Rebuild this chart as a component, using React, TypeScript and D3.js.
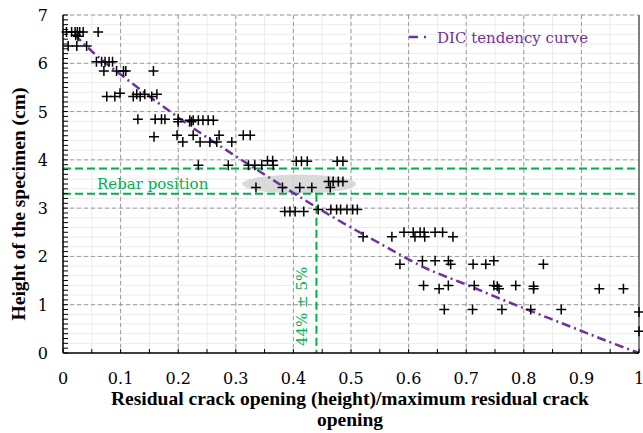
import React from "react";
import * as d3 from "d3";

// measured points, [ratio, height cm]
const points: [number, number][] = [
  [0.006, 6.65], [0.015, 6.65], [0.021, 6.65], [0.025, 6.65], [0.029, 6.65], [0.035, 6.65], [0.061, 6.65],
  [0.022, 6.58], [0.026, 6.56],
  [0.009, 6.36], [0.024, 6.36], [0.041, 6.36],
  [0.058, 6.03], [0.067, 6.03], [0.073, 6.03], [0.080, 6.03], [0.086, 6.03],
  [0.071, 5.84], [0.093, 5.84], [0.105, 5.84], [0.109, 5.84], [0.157, 5.84],
  [0.076, 5.31], [0.090, 5.31], [0.099, 5.38], [0.122, 5.31], [0.128, 5.36], [0.134, 5.31],
  [0.142, 5.36], [0.154, 5.31], [0.163, 5.36],
  [0.130, 4.84], [0.160, 4.84], [0.171, 4.84], [0.177, 4.84], [0.200, 4.84], [0.220, 4.82],
  [0.226, 4.82], [0.235, 4.82], [0.243, 4.82], [0.252, 4.82], [0.261, 4.82],
  [0.200, 4.79], [0.223, 4.79],
  [0.158, 4.48],
  [0.198, 4.51], [0.226, 4.51], [0.271, 4.51], [0.313, 4.51], [0.325, 4.51],
  [0.208, 4.37], [0.238, 4.37], [0.255, 4.37], [0.267, 4.37], [0.293, 4.37],
  [0.355, 3.98], [0.364, 3.98], [0.405, 3.97], [0.414, 3.97], [0.424, 3.97], [0.476, 3.97], [0.486, 3.97],
  [0.235, 3.89], [0.287, 3.89], [0.322, 3.89], [0.333, 3.89], [0.345, 3.89], [0.365, 3.89],
  [0.335, 3.43], [0.381, 3.43], [0.411, 3.43], [0.432, 3.43], [0.464, 3.43],
  [0.461, 3.55], [0.469, 3.55], [0.478, 3.55], [0.486, 3.55],
  [0.385, 2.93], [0.394, 2.93], [0.403, 2.93], [0.418, 2.93],
  [0.443, 2.97], [0.465, 2.97], [0.475, 2.97], [0.482, 2.97], [0.493, 2.97], [0.503, 2.97], [0.511, 2.97],
  [0.521, 2.41], [0.571, 2.41], [0.611, 2.41], [0.628, 2.41], [0.677, 2.41],
  [0.592, 2.5], [0.608, 2.5], [0.620, 2.5], [0.627, 2.5], [0.646, 2.5], [0.659, 2.5],
  [0.585, 1.84], [0.673, 1.84], [0.712, 1.84], [0.734, 1.84], [0.834, 1.84],
  [0.624, 1.91], [0.646, 1.91], [0.669, 1.91], [0.748, 1.91],
  [0.626, 1.4], [0.669, 1.4], [0.714, 1.4], [0.748, 1.4], [0.754, 1.38], [0.786, 1.4], [0.817, 1.38],
  [0.653, 1.33], [0.757, 1.33], [0.817, 1.33], [0.931, 1.33], [0.973, 1.33],
  [0.662, 0.9], [0.711, 0.9], [0.762, 0.9], [0.812, 0.9], [0.865, 0.9],
  [1.0, 0.85], [1.0, 0.45],
];

// DIC tendency curve
const trend: [number, number][] = [
  [0.02, 6.6], [0.05, 6.25], [0.113, 5.65], [0.186, 5.0], [0.238, 4.56], [0.293, 4.13],
  [0.365, 3.58], [0.406, 3.27], [0.478, 2.75], [0.55, 2.27], [0.631, 1.75], [0.691, 1.46],
  [0.793, 0.96], [0.874, 0.58], [0.955, 0.2], [1.0, 0.0],
];

const rebarLines = [3.82, 3.3];
const rebarX = 0.44;
const xTicks = [0, 0.1, 0.2, 0.3, 0.4, 0.5, 0.6, 0.7, 0.8, 0.9, 1];
const yTicks = [0, 1, 2, 3, 4, 5, 6, 7];

const W = 643;
const H = 433;
const green = "#00B050";
const purple = "#7030A0";

export default function App() {
  const x = d3.scaleLinear().domain([0, 1]).range([63, 639]);
  const y = d3.scaleLinear().domain([0, 7]).range([353, 15]);

  const xMinor = d3.range(0, 1.0001, 0.05);
  const yMinorGrid = d3.range(0, 7.0001, 0.2);
  const yMinorTicks = d3.range(0, 7.0001, 0.1);

  const line = d3
    .line<[number, number]>()
    .x((d) => x(d[0]))
    .y((d) => y(d[1]))
    .curve(d3.curveMonotoneX);

  const tickFont = "'DejaVu Serif', serif";
  const titleFont = "'Liberation Serif', serif";

  return (
    <svg width={W} height={H} style={{ position: "absolute", left: 0, top: 0, background: "#fff" }}>
      {/* minor grid */}
      {xMinor.map((t, i) => (
        <line key={"xm" + i} x1={x(t)} x2={x(t)} y1={y(7)} y2={y(0)} stroke="#ebebeb" />
      ))}
      {yMinorGrid.map((t, i) => (
        <line key={"ym" + i} x1={x(0)} x2={x(1)} y1={y(t)} y2={y(t)} stroke="#ebebeb" />
      ))}
      {/* major grid */}
      {xTicks.slice(1, -1).map((t) => (
        <line key={"xg" + t} x1={x(t)} x2={x(t)} y1={y(7)} y2={y(0)} stroke="#9a9a9a" strokeDasharray="4,3" />
      ))}
      {yTicks.slice(1).map((t) => (
        <line key={"yg" + t} x1={x(0)} x2={x(1)} y1={y(t)} y2={y(t)} stroke="#9a9a9a" strokeDasharray="4,3" />
      ))}
      <line x1={x(1)} x2={x(1)} y1={y(7)} y2={y(0)} stroke="#7f7f7f" strokeWidth={2} />

      {/* highlight ellipse */}
      <ellipse cx={x(0.41)} cy={y(3.5)} rx={x(0.099) - x(0)} ry={y(0) - y(0.197)} fill="#d4d4d4" opacity={0.85} />

      {/* rebar lines */}
      {rebarLines.map((v) => (
        <line key={"rb" + v} x1={x(0)} x2={x(1)} y1={y(v)} y2={y(v)} stroke={green} strokeWidth={2} strokeDasharray="8,4" />
      ))}
      <line x1={x(rebarX)} x2={x(rebarX)} y1={y(3.3)} y2={y(0)} stroke={green} strokeWidth={2} strokeDasharray="8,4" />
      <text x={97} y={189} fill={green} fontFamily={tickFont} fontSize={15}>Rebar position</text>
      <text
        transform={`translate(${x(rebarX) - 9},${y(0) - 7}) rotate(-90)`}
        fill={green}
        fontFamily={tickFont}
        fontSize={15}
      >
        44% ± 5%
      </text>

      {/* trend */}
      <path d={line(trend) || ""} fill="none" stroke={purple} strokeWidth={2.5} strokeDasharray="9,4,2,4" />

      {/* points */}
      {points.map((p, i) => (
        <g key={"p" + i} transform={`translate(${x(p[0])},${y(p[1])})`}>
          <path d="M-5,0H5M0,-5V5" stroke="#000" strokeWidth={1.5} />
        </g>
      ))}

      {/* axes */}
      <line x1={x(0)} x2={x(1)} y1={y(0)} y2={y(0)} stroke="#000" strokeWidth={1.5} />
      <line x1={x(0)} x2={x(0)} y1={y(0)} y2={y(7)} stroke="#000" strokeWidth={1.5} />
      {xMinor.map((t, i) => (
        <line key={"xt" + i} x1={x(t)} x2={x(t)} y1={y(0)} y2={y(0) - 4} stroke="#000" />
      ))}
      {yMinorTicks.map((t, i) => (
        <line key={"yt" + i} x1={x(0)} x2={x(0) + 5} y1={y(t)} y2={y(t)} stroke="#000" />
      ))}
      {xTicks.map((t) => (
        <text key={"xl" + t} x={x(t)} y={384} textAnchor="middle" fontFamily={tickFont} fontSize={16} fill="#000">
          {d3.format("~g")(t)}
        </text>
      ))}
      {yTicks.map((t) => (
        <text key={"yl" + t} x={48} y={y(t) + 6} textAnchor="end" fontFamily={tickFont} fontSize={16} fill="#000">
          {t}
        </text>
      ))}

      {/* legend */}
      <line x1={409} x2={438} y1={37} y2={37} stroke={purple} strokeWidth={2.5} strokeDasharray="9,6,2,20" />
      <text x={437} y={43} fill={purple} fontFamily={tickFont} fontSize={15}>DIC tendency curve</text>

      {/* axis titles */}
      <text x={350} y={405} textAnchor="middle" fontFamily={titleFont} fontWeight="bold" fontSize={19.5} fill="#000">
        Residual crack opening (height)/maximum residual crack
      </text>
      <text x={350} y={426} textAnchor="middle" fontFamily={titleFont} fontWeight="bold" fontSize={19.5} fill="#000">
        opening
      </text>
      <text
        transform={`translate(25,204) rotate(-90)`}
        textAnchor="middle"
        fontFamily={titleFont}
        fontWeight="bold"
        fontSize={19.5}
        fill="#000"
      >
        Height of the specimen (cm)
      </text>
    </svg>
  );
}
